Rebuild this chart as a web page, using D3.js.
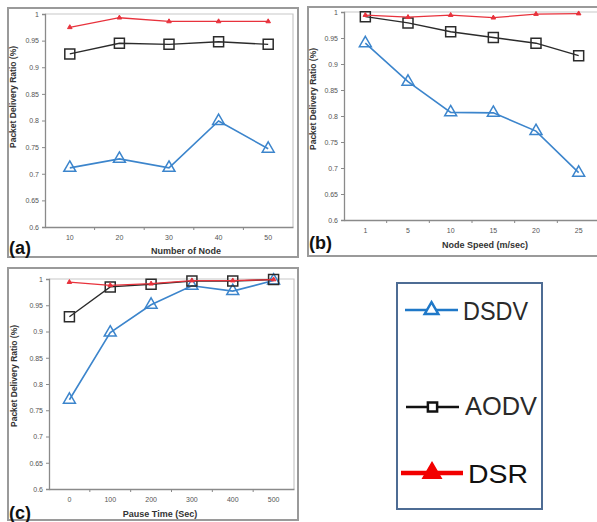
<!DOCTYPE html>
<html lang="en">
	<head>
		<meta charset="utf-8">
		<title>Packet Delivery Ratio</title>
		<script type="text/javascript" src="https://d3js.org/d3.v7.min.js"></script>
		<style type="text/css">
			body { margin: 0; background: #fff; }
			text { font-family: "Liberation Sans", Arial, sans-serif; }
		</style>
	</head>
	<body>
		<script type="text/javascript">

			// (a) number of nodes
			var nodesCats = ["10", "20", "30", "40", "50"];
			var nodesDSDV = [0.711, 0.728, 0.711, 0.799, 0.747];
			var nodesAODV = [0.925, 0.945, 0.943, 0.948, 0.943];
			var nodesDSR  = [0.975, 0.993, 0.986, 0.986, 0.986];

			// (b) node speed
			var speedCats = ["1", "5", "10", "15", "20", "25"];
			var speedDSDV = [0.940, 0.866, 0.807, 0.806, 0.771, 0.691];
			var speedAODV = [0.991, 0.979, 0.962, 0.951, 0.940, 0.916];
			var speedDSR  = [0.994, 0.990, 0.994, 0.989, 0.996, 0.997];

			// (c) pause time
			var pauseCats = ["0", "100", "200", "300", "400", "500"];
			var pauseDSDV = [0.770, 0.898, 0.951, 0.987, 0.977, 0.997];
			var pauseAODV = [0.928, 0.985, 0.990, 0.996, 0.996, 0.999];
			var pauseDSR  = [0.994, 0.988, 0.991, 0.997, 0.997, 0.999];

			var yTicks = [0.6, 0.65, 0.7, 0.75, 0.8, 0.85, 0.9, 0.95, 1];
			var protocols = ["DSDV", "AODV", "DSR"];

			var w = 597;
			var h = 522;

			var svg = d3.select("body")
						.append("svg")
						.attr("width", w)
						.attr("height", h);

			svg.append("rect").attr("width", w).attr("height", h).attr("fill", "white");

			var styles = {
				DSDV: { color: "#3c85cc", width: 1.6, symbol: d3.symbolTriangle, size: 62, fill: "white" },
				AODV: { color: "#2b2b2b", width: 1.4, symbol: d3.symbolSquare, size: 100, fill: "none" },
				DSR:  { color: "#e8323c", width: 1.3, symbol: d3.symbolTriangle, size: 9, fill: "#e8323c" }
			};

			function panel(p) {
				var g = svg.append("g");

				// outer frame
				g.append("rect")
					.attr("x", p.frame[0]).attr("y", p.frame[1])
					.attr("width", p.frame[2]).attr("height", p.frame[3])
					.attr("fill", "none").attr("stroke", "#9a9a9a").attr("stroke-width", 2);

				var x = d3.scaleBand().domain(p.cats).range([p.left, p.right]);
				var y = d3.scaleLinear().domain([0.6, 1]).range([p.bottom, p.top]);

				// light plot border (top / right)
				g.append("path")
					.attr("d", "M" + p.left + "," + p.top + "H" + p.right + "V" + p.bottom)
					.attr("fill", "none").attr("stroke", "#c8c8c8").attr("stroke-width", 1.2);

				var yAxis = g.append("g")
					.attr("transform", "translate(" + p.left + ",0)")
					.call(d3.axisLeft(y).tickValues(yTicks).tickSize(3).tickPadding(3)
						.tickFormat(function(d) { return d3.format("~g")(+d.toFixed(2)); }));

				var xAxis = g.append("g")
					.attr("transform", "translate(0," + p.bottom + ")")
					.call(d3.axisBottom(x).tickSize(0).tickPadding(p.xPad));

				// minor ticks at category boundaries
				xAxis.selectAll("line.sep")
					.data(p.cats.slice(1))
					.enter().append("line")
					.attr("class", "sep")
					.attr("x1", function(d) { return x(d); })
					.attr("x2", function(d) { return x(d); })
					.attr("y1", 0).attr("y2", 3)
					.attr("stroke", "#888");

				[yAxis, xAxis].forEach(function(a) {
					a.select(".domain").attr("stroke", "#8a8a8a").attr("stroke-width", 1.3);
					a.selectAll(".tick line").attr("stroke", "#8a8a8a");
					a.selectAll("text").attr("font-size", "7px").attr("fill", "#555")
						.attr("font-family", "Liberation Sans, Arial, sans-serif");
				});

				var cx = function(i) { return x(p.cats[i]) + x.bandwidth() / 2; };

				protocols.forEach(function(name) {
					var s = styles[name];
					var vals = p.series[name];
					var line = d3.line()
						.x(function(d, i) { return cx(i); })
						.y(function(d) { return y(d); });
					g.append("path")
						.datum(vals)
						.attr("d", line)
						.attr("fill", "none")
						.attr("stroke", s.color)
						.attr("stroke-width", s.width);
					g.selectAll("path.m" + name)
						.data(vals)
						.enter().append("path")
						.attr("class", "m" + name)
						.attr("d", d3.symbol().type(s.symbol).size(s.size))
						.attr("transform", function(d, i) { return "translate(" + cx(i) + "," + y(d) + ")"; })
						.attr("fill", s.fill)
						.attr("fill-opacity", name == "DSDV" ? 0 : 1)
						.attr("stroke", s.color)
						.attr("stroke-width", name == "DSR" ? 1 : 1.5);
				});

				g.append("text")
					.text("Packet Delivery Ratio (%)")
					.attr("transform", "translate(" + p.yLab[0] + "," + p.yLab[1] + ") rotate(-90)")
					.attr("text-anchor", "middle")
					.attr("font-size", "8.5px")
					.attr("font-weight", "bold")
					.attr("fill", "#333");

				g.append("text")
					.text(p.xTitle)
					.attr("x", p.xLab[0]).attr("y", p.xLab[1])
					.attr("text-anchor", "middle")
					.attr("font-size", "9px")
					.attr("font-weight", "bold")
					.attr("fill", "#333");

				g.append("text")
					.text(p.tag)
					.attr("x", p.tagPos[0]).attr("y", p.tagPos[1])
					.attr("font-size", "18px")
					.attr("font-weight", "bold")
					.attr("fill", "#111");
			}

			panel({
				frame: [8, 8, 290, 249], cats: nodesCats,
				series: { DSDV: nodesDSDV, AODV: nodesAODV, DSR: nodesDSR },
				left: 45, right: 293, top: 14, bottom: 227, xPad: 8,
				yLab: [16, 97], xTitle: "Number of Node", xLab: [186, 254],
				tag: "(a)", tagPos: [9, 254]
			});

			panel({
				frame: [308, 7, 295, 249], cats: speedCats,
				series: { DSDV: speedDSDV, AODV: speedAODV, DSR: speedDSR },
				left: 344, right: 600, top: 12, bottom: 220, xPad: 8,
				yLab: [316, 99], xTitle: "Node Speed (m/sec)", xLab: [485, 248],
				tag: "(b)", tagPos: [309, 249]
			});

			panel({
				frame: [8, 268, 290, 252], cats: pauseCats,
				series: { DSDV: pauseDSDV, AODV: pauseAODV, DSR: pauseDSR },
				left: 49, right: 294, top: 279, bottom: 489, xPad: 8,
				yLab: [17, 376], xTitle: "Pause Time (Sec)", xLab: [160, 517],
				tag: "(c)", tagPos: [9, 519]
			});

			// legend
			var legendY = [310, 407, 473];
			var legendText = [[463, 320, 65], [465, 415, 72], [468, 483, 60]];
			var legendLine = [[405, 458, 2.5], [406, 459, 2.5], [401, 463, 4.5]];

			var lg = svg.append("g");
			lg.append("rect")
				.attr("x", 397).attr("y", 283).attr("width", 145).attr("height", 226)
				.attr("fill", "white").attr("stroke", "#4e6c94").attr("stroke-width", 2);

			protocols.forEach(function(name, i) {
				var s = styles[name];
				var ly = legendY[i];
				var mid = (legendLine[i][0] + legendLine[i][1]) / 2;
				var col = name == "DSR" ? "#f20000" : (name == "DSDV" ? "#1f78c8" : "#111");
				lg.append("line")
					.attr("x1", legendLine[i][0]).attr("x2", legendLine[i][1])
					.attr("y1", ly).attr("y2", ly)
					.attr("stroke", col)
					.attr("stroke-width", legendLine[i][2]);
				var msize = name == "DSR" ? 120 : (name == "DSDV" ? 80 : 85);
				lg.append("path")
					.attr("d", d3.symbol().type(s.symbol).size(msize))
					.attr("transform", "translate(" + mid + "," + ly + ")")
					.attr("fill", name == "DSR" ? col : "white")
					.attr("stroke", col)
					.attr("stroke-width", 2.5);
				lg.append("text")
					.text(name)
					.attr("x", legendText[i][0]).attr("y", legendText[i][1])
					.attr("textLength", legendText[i][2])
					.attr("lengthAdjust", "spacingAndGlyphs")
					.attr("font-size", "25px")
					.attr("fill", name == "DSR" ? "#111" : "#2a2a2a");
			});

		</script>
	</body>
</html>
